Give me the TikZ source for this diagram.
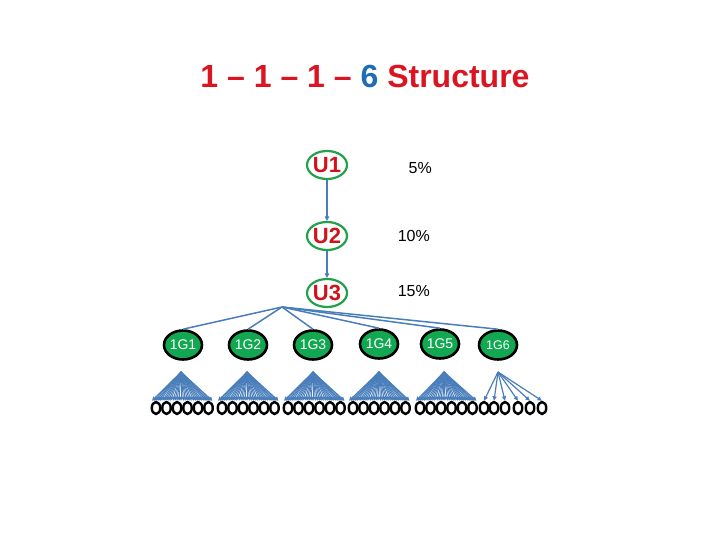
\documentclass[tikz,border=0pt]{standalone}
\usepackage{fontspec}
\setmainfont{Liberation Sans}
\usetikzlibrary{shapes.geometric,arrows.meta,calc}
\definecolor{tred}{HTML}{DA1420}
\definecolor{tblue}{HTML}{1F6EB5}
\definecolor{ured}{HTML}{D0121B}
\definecolor{ugreen}{HTML}{21A24A}
\definecolor{gfill}{HTML}{12A852}
\definecolor{lblue}{HTML}{4A7EBB}
\tikzset{
  titletext/.style={font=\fontsize{32}{32}\selectfont\bfseries, inner sep=0pt},
  unode/.style={ellipse, draw=ugreen, line width=2.2pt, minimum width=40pt, minimum height=28pt, inner sep=0pt, text=ured, font=\fontsize{22}{22}\selectfont\bfseries},
  pct/.style={font=\fontsize{16}{16}\selectfont, inner sep=0pt, anchor=east},
  gnode/.style={ellipse, draw=black, line width=2.6pt, fill=gfill, minimum width=38pt, minimum height=29pt, inner sep=0pt, text=white, font=\fontsize{14}{14}\selectfont},
  leaf/.style={ellipse, draw=black, line width=2.4pt, minimum width=8.5pt, minimum height=12pt, inner sep=0pt},
  uarrow/.style={draw=lblue, line width=1.3pt, -{Triangle[length=4.5pt,width=4.5pt]}},
  conn/.style={draw=lblue, line width=1.5pt},
  fan/.style={draw=lblue, line width=1pt, -{Triangle[length=4pt,width=4pt]}},
  sparse/.style={draw=lblue, line width=1.2pt, -{Triangle[length=4.5pt,width=4pt]}}
}
\begin{document}
\begin{tikzpicture}[x=1pt,y=-1pt]
\useasboundingbox (0,0) rectangle (720,540);
\node[titletext] (title) at (365,76) {\textcolor{tred}{1 – 1 – 1 –} \textcolor{tblue}{6} \textcolor{tred}{Structure}};
\node[unode] (u1) at (327,165) {U1};
\node[unode] (u2) at (327,236) {U2};
\node[unode] (u3) at (327,293) {U3};
\draw[uarrow] (u1) -- (u2);
\draw[uarrow] (u2) -- (u3);
\node[pct] (p1) at (432,168) {5\%};
\node[pct] (p2) at (430,236) {10\%};
\node[pct] (p3) at (430,291) {15\%};
\coordinate (hub) at (282,307);
\node[gnode] (g1) at (183,345) {1G1};
\node[gnode] (g2) at (248,345) {1G2};
\node[gnode] (g3) at (313,345) {1G3};
\node[gnode] (g4) at (379,344) {1G4};
\node[gnode] (g5) at (440,344) {1G5};
\node[gnode, font=\fontsize{12.5}{12.5}\selectfont] (g6) at (498,345) {1G6};
\foreach \g in {1,...,6} {\draw[conn] (hub) -- (g\g.north);}
\foreach \g/\ax/\xs in {1/181/{156,166.5,177,187.5,198,208.5},
                        2/247/{222,232.5,243,253.5,264,274.5},
                        3/313/{288,298.5,309,319.5,330,340.5},
                        4/379/{353,363.5,374,384.5,395,405.5},
                        5/444/{420,430.5,441,451.5,462,472.5},
                        6/498/{484,494,505,518,530,542}} {
  \foreach \x [count=\i] in \xs {\node[leaf] (l\g-\i) at (\x,408) {};}
  \coordinate (a\g) at (\ax,372);
}
\foreach \g in {1,...,5} {
  \foreach \i in {1,...,6} {
    \foreach \s in {-4,-2,0,2,4} {
      \draw[fan] (a\g) -- ([xshift=\s pt, yshift=0pt]l\g-\i.north);
    }
  }
}
\foreach \i in {1,...,6} {\draw[sparse] (a6) -- (l6-\i.north);}
\end{tikzpicture}
\end{document}
